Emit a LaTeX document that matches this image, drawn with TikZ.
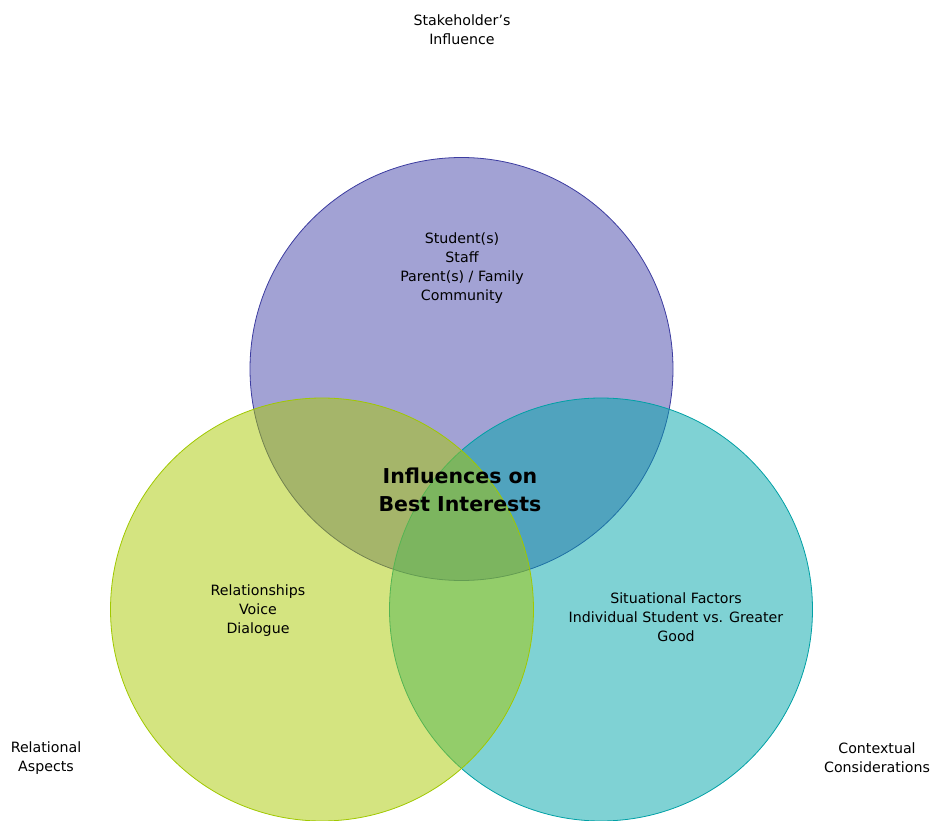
\documentclass[tikz,border=0pt]{standalone}
\usepackage{fontspec}
\setmainfont{DejaVu Sans}
\definecolor{topfill}{RGB}{69,69,169}
\definecolor{topline}{RGB}{60,60,160}
\definecolor{leftfill}{RGB}{169,201,1}
\definecolor{leftline}{RGB}{160,200,0}
\definecolor{rightfill}{RGB}{0,165,169}
\definecolor{rightline}{RGB}{0,160,165}
\begin{document}
\begin{tikzpicture}[x=1pt,y=-1pt,
  venn/.style={circle, minimum size=423pt, inner sep=0pt, fill opacity=0.5, line width=0.8pt},
  lbl/.style={align=center, font=\fontsize{14.2}{19}\selectfont, text=black, inner sep=0pt},
  title/.style={align=center, font=\fontsize{20.5}{28}\selectfont\bfseries, inner sep=0pt}]
\useasboundingbox (0,0) rectangle (932,821);
\node[venn, draw=topline, fill=topfill] (top) at (461.5,369) {};
\node[venn, draw=rightline, fill=rightfill] (right) at (601,609.5) {};
\node[venn, draw=leftline, fill=leftfill] (left) at (322,609.5) {};
\node[lbl] (tlabel) at (462,30) {Stakeholder’s\\Influence};
\node[lbl] (ttext) at (462,268) {Student(s)\\Staff\\Parent(s) / Family\\Community};
\node[title] (center) at (460,490) {Influences on\\Best Interests};
\node[lbl] (ltext) at (258,610.5) {Relationships\\Voice\\Dialogue};
\node[lbl] (rtext) at (676,617) {Situational Factors\\Individual Student vs. Greater\\Good};
\node[lbl] (llabel) at (46,758) {Relational\\Aspects};
\node[lbl] (rlabel) at (877,758) {Contextual\\Considerations};
\end{tikzpicture}
\end{document}
